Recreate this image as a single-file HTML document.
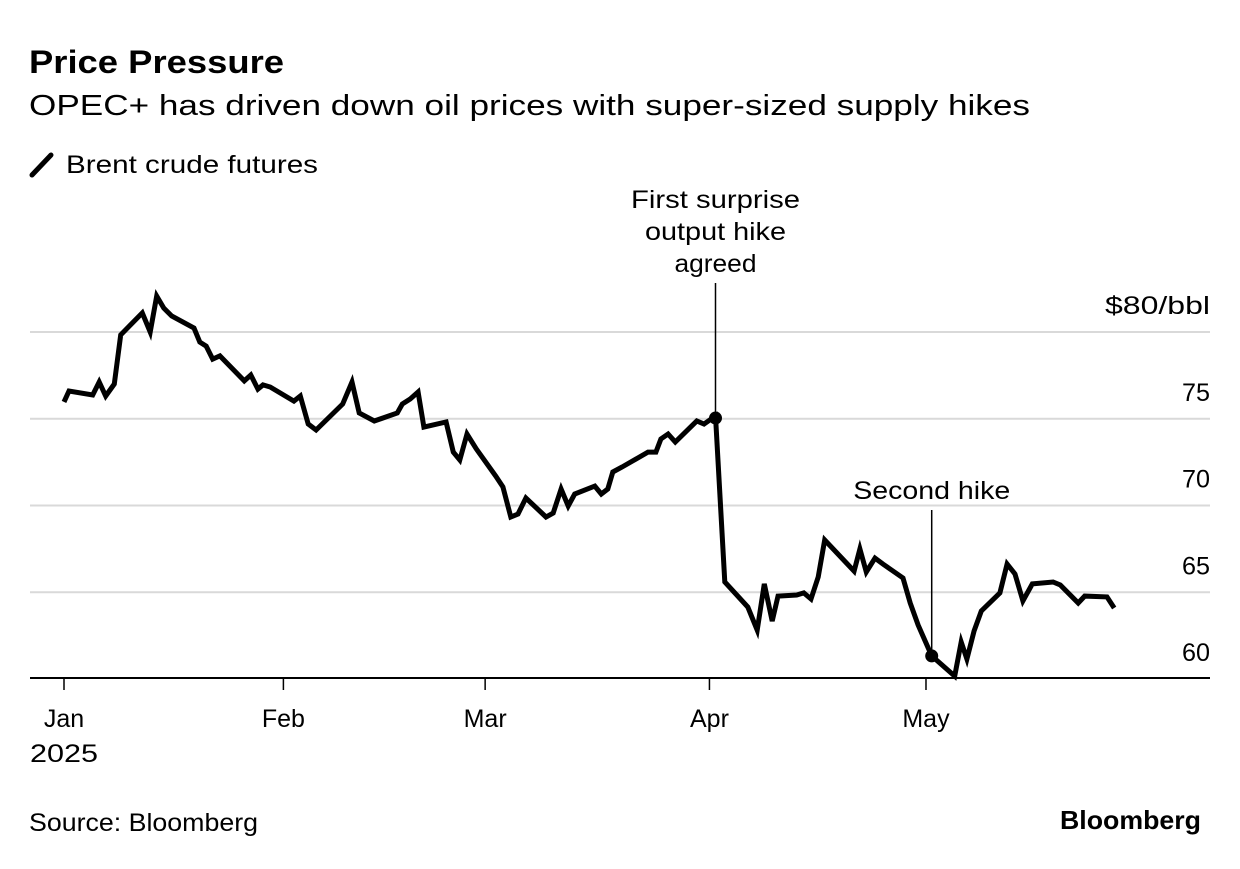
<!DOCTYPE html>
<html><head><meta charset="utf-8"><style>
body{margin:0;background:#fff;width:1240px;height:864px;overflow:hidden;font-family:"Liberation Sans",sans-serif;color:#000}
svg text{font-family:"Liberation Sans",sans-serif}
</style></head><body>
<svg width="1240" height="864">
<text x="29" y="73" font-size="32" font-weight="bold" textLength="255" lengthAdjust="spacingAndGlyphs">Price Pressure</text>
<text x="29" y="115" font-size="29" textLength="1001" lengthAdjust="spacingAndGlyphs">OPEC+ has driven down oil prices with super-sized supply hikes</text>
<line x1="32" y1="175" x2="51" y2="155" stroke="#000" stroke-width="5" stroke-linecap="round"/>
<text x="66" y="173" font-size="25" textLength="252" lengthAdjust="spacingAndGlyphs">Brent crude futures</text>
<g id="grid"></g>
<g id="xaxis"></g>
<g id="ann"></g>
<path id="line" fill="none" stroke="#000" stroke-width="5" stroke-linejoin="miter"/>
<g id="marks"></g>
<text x="29" y="831" font-size="25" textLength="229" lengthAdjust="spacingAndGlyphs">Source: Bloomberg</text>
<text x="1060" y="829" font-size="26" font-weight="bold" textLength="141" lengthAdjust="spacingAndGlyphs">Bloomberg</text>
</svg>
<script>
const days=[0,0.7,4.0,4.9,5.8,7.0,7.9,10.9,12.0,12.9,13.9,15.0,18.1,18.9,19.8,20.7,21.7,25.1,26.0,27.0,27.7,28.7,32.0,32.9,34.0,35.1,38.8,40.1,41.1,43.2,46.4,47.1,48.2,49.3,50.1,53.2,54.2,55.1,56.1,57.4,60.1,61.1,62.2,63.2,64.3,67.1,68.1,69.2,70.2,71.1,73.9,74.8,75.7,76.4,77.7,81.3,82.4,83.1,84.1,85.1,88.1,89.1,90.7,92.0,95.2,96.5,97.5,98.6,99.4,102.0,103.0,104.0,105.0,105.9,110.0,110.8,111.7,112.9,114.0,116.8,117.8,118.9,120.8,124.0,124.9,125.7,126.7,127.7,130.3,131.3,132.4,133.5,134.8,137.7,138.7,141.2,142.1,145.2,146.2];
const prices=[75.97,76.6,76.37,77.12,76.31,77.0,79.83,81.1,80.0,82.07,81.38,80.92,80.23,79.42,79.19,78.44,78.62,77.18,77.52,76.71,76.95,76.83,76.02,76.31,74.70,74.35,75.85,77.12,75.33,74.87,75.33,75.85,76.14,76.54,74.52,74.81,73.08,72.62,74.12,73.26,71.70,71.07,69.34,69.51,70.43,69.34,69.57,70.95,69.97,70.66,71.12,70.66,70.95,71.93,72.22,73.08,73.08,73.83,74.12,73.66,74.87,74.70,75.16,65.59,64.15,62.82,65.48,63.34,64.78,64.84,64.96,64.61,65.88,68.01,66.22,67.49,66.17,66.97,66.63,65.82,64.38,63.11,61.33,60.17,62.13,61.15,62.77,63.92,64.96,66.63,66.05,64.50,65.48,65.59,65.42,64.38,64.78,64.73,64.09];
const yTicks=[60,65,70,75,80];
const yLabels=["60","65","70","75","$80/bbl"];
const monthDays=[0,31,59,90,120];
const monthLabels=["Jan","Feb","Mar","Apr","May"];
const events=[{day:90.7,price:75.04,lines:["First surprise","output hike","agreed"]},{day:120.8,price:61.33,lines:["Second hike"]}];
const NS="http://www.w3.org/2000/svg";
const X=d=>64+d*7.183;
const Y=v=>679-(v-60)*17.35;
function mk(tag,attrs,parent,txt){const e=document.createElementNS(NS,tag);for(const k in attrs)e.setAttribute(k,attrs[k]);if(txt!==undefined)e.textContent=txt;parent.appendChild(e);return e;}
const W=s=>s.length*14.5;
const grid=document.getElementById('grid');
yTicks.forEach((t,i)=>{
  if(i>0){const l=mk('line',{x1:30,x2:1210,y1:Y(t),y2:Y(t),stroke:'#d9d9d9','stroke-width':2},grid);
  
  }
  const s=yLabels[i];
  const tx=mk('text',{x:1210,y:Y(t)-18,'font-size':25,'text-anchor':'end',textLength:s.length>2?105:28,lengthAdjust:'spacingAndGlyphs'},grid,s);
  
  
});
const xa=document.getElementById('xaxis');
const ax=mk('line',{x1:30,x2:1210,y1:678,y2:678,stroke:'#000','stroke-width':2},xa);


const mx=[64,282,484,709,926];
monthDays.forEach((d,i)=>{
  const x=i===0?X(d):(X(d)*0.3+mx[i]*0.7);
  const tk=mk('line',{x1:x,x2:x,y1:678,y2:690,stroke:'#000','stroke-width':1.5},xa);
  
  
  const tx=mk('text',{x:x,y:727,'font-size':25,'text-anchor':'middle'},xa,monthLabels[i]);
  
  
});
const yr=mk('text',{x:64,y:762,'font-size':25,'text-anchor':'middle',textLength:68,lengthAdjust:'spacingAndGlyphs'},xa,'2025');


document.getElementById('line').setAttribute('d',days.map((d,i)=>(i?'L':'M')+X(d).toFixed(1)+','+Y(prices[i]).toFixed(1)).join(''));
const ann=document.getElementById('ann');
const annW={"First surprise":169,"output hike":141,"agreed":82,"Second hike":157};
events.forEach((e,k)=>{
  const x=X(e.day),y=Y(e.price);
  const top=k===0?283:510;
  const l=mk('line',{x1:x,x2:x,y1:top,y2:y,stroke:'#000','stroke-width':1.5},ann);
  
  
  const base=k===0?208:499;
  e.lines.forEach((s,j)=>{
    const t=mk('text',{x:x,y:base+j*32,'font-size':25,'text-anchor':'middle',textLength:annW[s]||W(s),lengthAdjust:'spacingAndGlyphs'},ann,s);
    
    
  });
  const c=mk('circle',{cx:x,cy:y,r:6.5,fill:'#000'},document.getElementById('marks'));
  
  
});
</script>
</body></html>
